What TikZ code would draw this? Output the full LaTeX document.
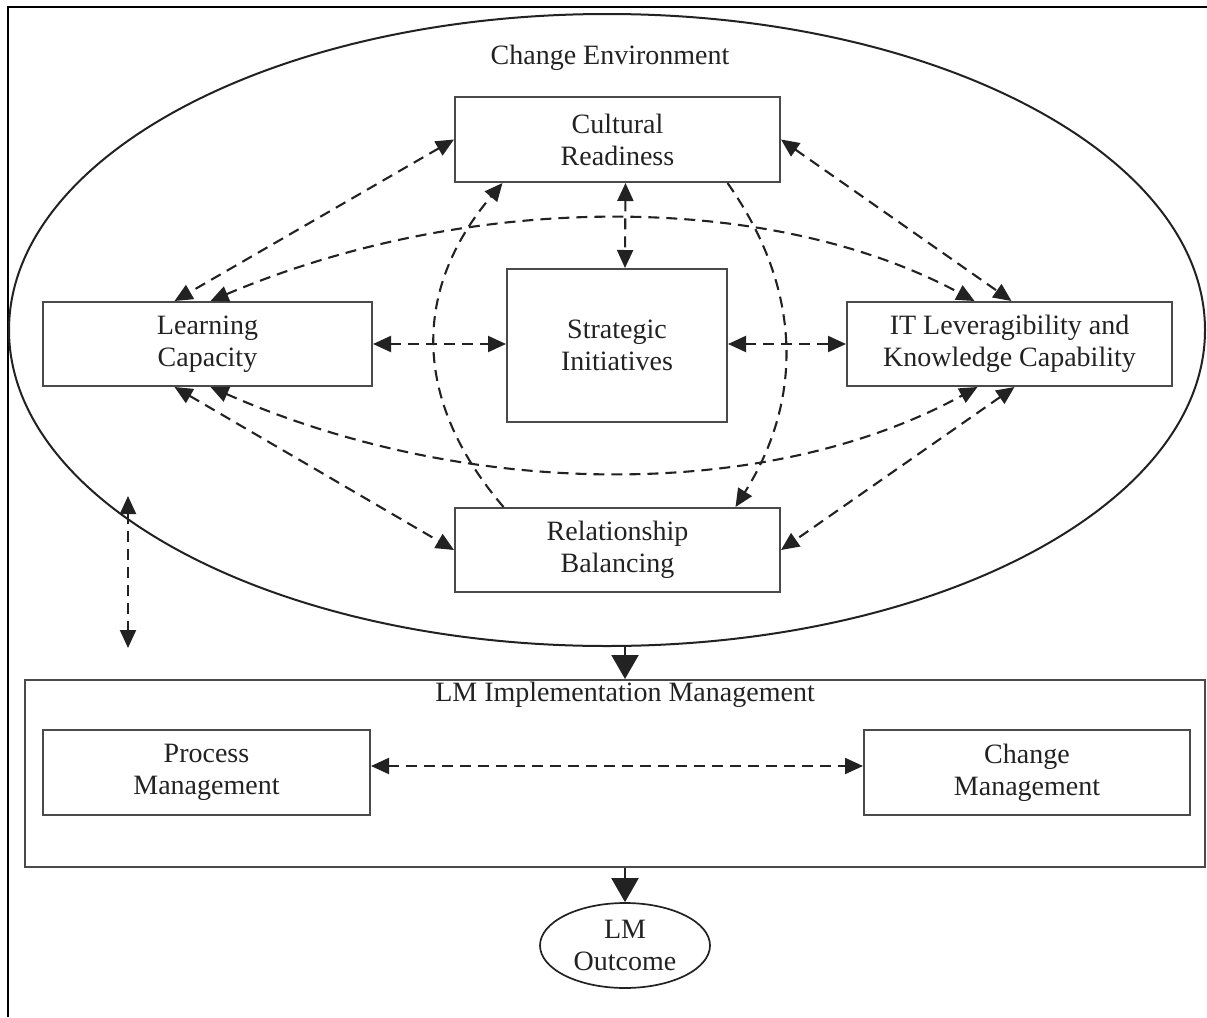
\documentclass[tikz,border=0pt]{standalone}
\usepackage{fontspec}
\setmainfont{Liberation Serif}
\usetikzlibrary{arrows.meta,shapes.geometric,calc}
\definecolor{ink}{HTML}{222222}
\definecolor{boxline}{HTML}{4A4A4A}
\begin{document}
\begin{tikzpicture}[x=1pt,y=-1pt,
  txt/.style={font=\fontsize{28}{32}\selectfont, text=ink, align=center},
  box/.style={txt, draw=boxline, line width=2pt, inner sep=0pt},
  link/.style={draw=ink, line width=2.1pt, dash pattern=on 11pt off 7pt,
    {Triangle[length=18pt,width=16pt]}-{Triangle[length=18pt,width=16pt]}},
  linkto/.style={draw=ink, line width=2.1pt, dash pattern=on 11pt off 7pt,
    -{Triangle[length=18pt,width=16pt]}},
  flow/.style={draw=ink, line width=2.2pt, -{Triangle[length=24pt,width=27pt]}}]
\useasboundingbox (0,0) rectangle (1207,1017);

% frame
\draw[line width=2.5pt, black] (1207,7) -- (8,7) -- (8,1017);

% change environment
\node[ellipse, draw=ink, line width=2pt, minimum width=1196pt, minimum height=632pt, inner sep=0pt] (env) at (607,330) {};
\node[txt] (envtitle) at (610,58) {Change Environment};

\node[box, minimum width=325pt, minimum height=85pt] (cr) at (617.5,139.5) {Cultural\\Readiness};
\node[box, minimum width=220pt, minimum height=153pt] (si) at (617,345.5) {Strategic\\Initiatives};
\node[box, minimum width=329pt, minimum height=84pt] (lc) at (207.5,344) {Learning\\Capacity};
\node[box, minimum width=325pt, minimum height=84pt] (it) at (1009.5,344) {IT Leveragibility and\\Knowledge Capability};
\node[box, minimum width=325pt, minimum height=84pt] (rb) at (617.5,550) {Relationship\\Balancing};

% implementation management
\node[box, minimum width=1180pt, minimum height=187pt] (lmi) at (615,773.5) {};
\node[txt] (lmititle) at (625,695) {LM Implementation Management};
\node[box, minimum width=327pt, minimum height=85pt] (pm) at (206.5,772.5) {Process\\Management};
\node[box, minimum width=326pt, minimum height=85pt] (cm) at (1027,772.5) {Change\\Management};

% outcome
\node[txt, ellipse, draw=ink, line width=1.7pt, minimum width=170pt, minimum height=85pt, inner sep=0pt] (lmo) at (625,945.5) {LM\\Outcome};

% straight links
\draw[link] (cr.west) -- ([xshift=-33pt]lc.north);
\draw[link] (cr.east) -- ([xshift=2pt]it.north);
\draw[link] ([xshift=8pt]cr.south) -- ([xshift=8pt]si.north);
\draw[link] (lc.east) -- (lc.east -| si.west);
\draw[link] (si.east |- it.west) -- (it.west);
\draw[link] ([xshift=-33pt]lc.south) -- (rb.west);
\draw[link] ([xshift=5pt]it.south) -- (rb.east);

% curved links
\draw[link] ([xshift=3pt]lc.north) .. controls (470,191) and (770,191) .. ([xshift=-35pt]it.north);
\draw[link] ([xshift=3pt]lc.south) .. controls (470,501) and (770,501) .. ([xshift=-32pt]it.south);
\draw[linkto] ([xshift=-114pt]rb.north) .. controls (412,400) and (412,290) .. ([xshift=-115pt]cr.south);
\draw[linkto] ([xshift=110pt]cr.south) .. controls (803,290) and (803,400) .. ([xshift=118pt]rb.north);

% environment to implementation
\coordinate (envlink) at (128,496);
\coordinate (implink) at (128,648);
\draw[link] (envlink) -- (implink);
\draw[link] ([yshift=6.5pt]pm.east) -- ([yshift=6.5pt]cm.west);

% main flow
\draw[flow] (lmo.north |- env.south) -- (lmo.north |- lmi.north);
\draw[flow] (lmo.north |- lmi.south) -- (lmo.north);
\end{tikzpicture}
\end{document}
